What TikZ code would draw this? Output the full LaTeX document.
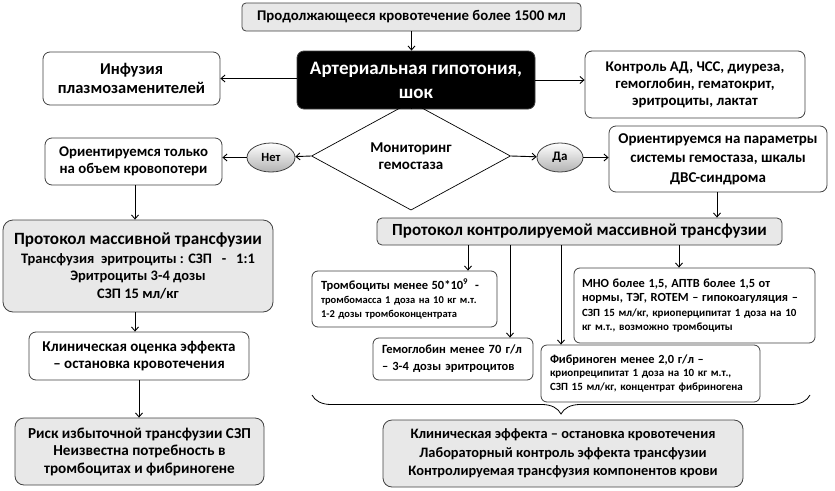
\documentclass[tikz,border=0pt]{standalone}
\usepackage{fontspec}
\setmainfont{Carlito}
\usetikzlibrary{arrows.meta,positioning,shapes.geometric,decorations.pathreplacing}
\newcommand{\fsz}[2]{\fontsize{#1}{#2}\selectfont\bfseries}

\begin{document}
\begin{tikzpicture}[x=1pt, y=-1pt,
  line/.style={-{Straight Barb[length=4pt,width=7pt]}, line width=0.9pt},
  box/.style={rectangle,draw=black!75,line width=0.8pt,rounded corners=7pt,fill=white,align=center,inner sep=0pt},
  greybox/.style={box,fill=black!9},
  leftbox/.style={box,rounded corners=6pt,align=left,inner xsep=9pt,inner ysep=0pt},
  oval/.style={ellipse,draw=black!75,line width=0.8pt,top color=white,bottom color=black!30,inner sep=0pt}]
\useasboundingbox (0,0) rectangle (835,490);
% top row
\node[greybox,rounded corners=4pt,minimum width=339pt,minimum height=28pt,font=\fsz{14.8}{17}] (bleed) at (411.5,17) {Продолжающееся кровотечение более 1500 мл};
\node[box,fill=black,text=white,minimum width=238pt,minimum height=58pt,font=\fsz{19}{24}] (shock) at (416,80) {Артериальная гипотония,\\шок};
\node[box,minimum width=177pt,minimum height=53pt,font=\fsz{16.5}{19}] (infuse) at (131.5,78.5) {Инфузия\\плазмозаменителей};
\node[box,minimum width=220pt,minimum height=67pt,font=\fsz{14.8}{17}] (vitals) at (695,84.5) {Контроль АД, ЧСС, диуреза,\\гемоглобин, гематокрит,\\эритроциты, лактат};
% decision
\node[diamond,draw,line width=0.7pt,minimum width=199pt,minimum height=76pt,inner sep=0pt,align=center,font=\fsz{15}{17}] (mon) at (411,156) {Мониторинг\\гемостаза};
\node[oval,minimum width=48pt,minimum height=29pt,font=\fsz{12.5}{14}] (no) at (271,157.5) {Нет};
\node[oval,minimum width=46pt,minimum height=29pt,font=\fsz{13}{14}] (yes) at (560,157.5) {Да};
\node[box,minimum width=177pt,minimum height=47pt,font=\fsz{14.8}{17}] (onlyvol) at (133.5,161.5) {Ориентируемся только\\на объем кровопотери};
\node[box,minimum width=218pt,minimum height=66pt,font=\fsz{15}{19.5}] (params) at (718,159) {Ориентируемся на параметры\\системы гемостаза, шкалы\\ДВС-синдрома};
% left branch
\node[greybox,rounded corners=10pt,minimum width=270pt,minimum height=92pt,font=\fsz{14.5}{17.5}] (massprot) at (138,266) {{\fsz{17.2}{19}Протокол массивной трансфузии}\\[1pt]Трансфузия \ эритроциты : СЗП \ \ - \ \ 1:1\\Эритроциты 3-4 дозы\\СЗП 15 мл/кг};
\node[box,minimum width=220pt,minimum height=48pt,font=\fsz{15}{17}] (clin) at (139,356) {Клиническая оценка эффекта\\– остановка кровотечения};
\node[greybox,rounded corners=9pt,minimum width=249pt,minimum height=67pt,font=\fsz{15.2}{17.5}] (risk) at (139.5,451.5) {Риск избыточной трансфузии СЗП\\Неизвестна потребность в\\тромбоцитах и фибриногене};
% right branch
\node[greybox,rounded corners=5pt,minimum width=405pt,minimum height=27pt,font=\fsz{17}{19}] (ctrlprot) at (579.5,231.5) {Протокол контролируемой массивной трансфузии};
\node[leftbox,text width=167pt,minimum height=56pt,font=\fsz{10.5}{14}] (plt) at (404.5,299) {{\fsz{12.5}{15}Тромбоциты менее 50*10\textsuperscript{9} \ -}\\тромбомасса 1 доза на 10 кг м.т.\\1-2 дозы тромбоконцентрата};
\node[leftbox,text width=142pt,minimum height=42pt,font=\fsz{12.5}{17}] (hb) at (453,359) {Гемоглобин менее 70 г/л\\– 3-4 дозы эритроцитов};
\node[leftbox,text width=225pt,inner xsep=8pt,minimum height=75pt,font=\fsz{11}{14.5}] (inr) at (694.5,305.5) {{\fsz{12.4}{16}МНО более 1,5, АПТВ более 1,5 от}\\{\fsz{12.4}{16}нормы, ТЭГ, ROTEM – гипокоагуляция –}\\СЗП 15 мл/кг, криоперципитат 1 доза на 10\\кг м.т., возможно тромбоциты};
\node[leftbox,text width=201pt,minimum height=57pt,font=\fsz{11}{13.5}] (fib) at (650.5,373.5) {{\fsz{12.4}{14}Фибриноген менее 2,0 г/л –}\\криопреципитат 1 доза на 10 кг м.т.,\\СЗП 15 мл/кг, концентрат фибриногена};
\coordinate (bracer) at (810,395);
\coordinate (bracel) at (312,395);
\node[greybox,rounded corners=9pt,minimum width=360pt,minimum height=67pt,font=\fsz{14.4}{18.5}] (summary) at (563,453.5) {Клиническая эффекта – остановка кровотечения\\Лабораторный контроль эффекта трансфузии\\Контролируемая трансфузия компонентов крови};
% connectors
\draw[line] (bleed.south) -- (bleed.south |- shock.north);
\draw[line] (shock.west |- infuse.east) -- (infuse.east);
\draw[line] (shock.east |- 0,80) -- (vitals.west |- 0,80);
\draw[line] (shock.south -| mon.north) -- (mon.north);
\draw[line] (mon.west) -- (no);
\draw[line] (no.west) -- (no.west -| onlyvol.east);
\draw[line] (mon.east) -- (yes);
\draw[line] (yes.east) -- (yes.east -| params.west);
\draw[line] (params.south -| 717,0) -- (ctrlprot.north -| 717,0);
\draw[line] (onlyvol.south -| 135,0) -- (massprot.north -| 135,0);
\draw[line] (massprot.south -| 135,0) -- (clin.north -| 135,0);
\draw[line] (clin.south) -- (risk.north -| clin.south);
\draw[line] (ctrlprot.south -| 468,0) -- (plt.north -| 468,0);
\draw[line] (ctrlprot.south -| 510,0) -- (hb.north -| 510,0);
\draw[line] (ctrlprot.south -| 561,0) -- (fib.north -| 561,0);
\draw[line] (ctrlprot.south -| 679,0) -- (inr.north -| 679,0);
\draw[line width=0.8pt,decorate,decoration={brace,amplitude=19pt}] (bracer) -- (bracel);
\end{tikzpicture}
\end{document}
